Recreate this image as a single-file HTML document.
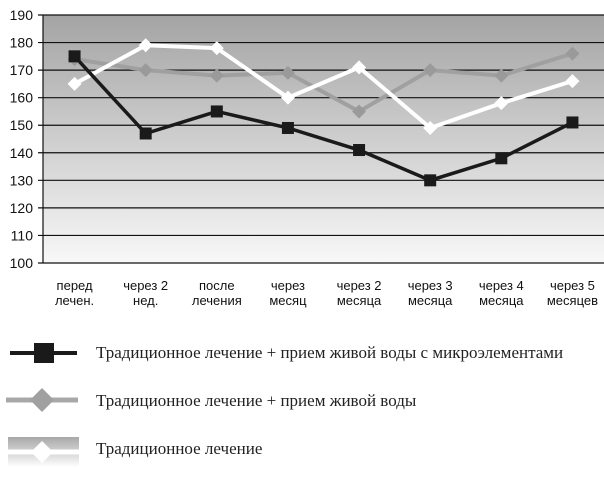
<!DOCTYPE html>
<html><head><meta charset="utf-8"><style>
body{margin:0;background:#fff}
svg text{font-family:"Liberation Sans",sans-serif}
.leg{font-family:"Liberation Serif",serif;font-size:17px;fill:#222}
</style></head><body>
<svg id="chart" width="604" height="475" viewBox="0 0 604 475" xmlns="http://www.w3.org/2000/svg">
<defs>
<linearGradient id="bg" x1="0" y1="0" x2="0" y2="1">
<stop offset="0" stop-color="#a4a4a4"/><stop offset="1" stop-color="#f8f8f8"/>
</linearGradient>
<linearGradient id="lg" x1="0" y1="0" x2="0" y2="1">
<stop offset="0" stop-color="#a8a8a8"/><stop offset="1" stop-color="#ffffff"/>
</linearGradient>
</defs>
<rect x="43" y="15" width="561" height="248" fill="url(#bg)"/>
<g id="grid"></g><g id="series"></g><g id="xlabels"></g>
<g>
<g>
<line x1="10" y1="353" x2="77" y2="353" stroke="#1a1a1a" stroke-width="4"/>
<rect x="34" y="343" width="20" height="20" fill="#1a1a1a"/>
<text class="leg" x="96" y="358">Традиционное лечение + прием живой воды с микроэлементами</text></g>
<g>
<line x1="6" y1="400" x2="78" y2="400" stroke="#a8a8a8" stroke-width="5"/>
<polygon points="42,388 54,400 42,412 30,400" fill="#a0a0a0"/>
<text class="leg" x="96" y="406">Традиционное лечение + прием живой воды</text></g>
<g>
<rect x="8" y="437" width="71" height="30" fill="url(#lg)"/>
<line x1="8" y1="452" x2="79" y2="452" stroke="#fff" stroke-width="5"/>
<polygon points="42,441 53,452 42,463 31,452" fill="#fff"/>
<text class="leg" x="96" y="454">Традиционное лечение</text></g>
</g>
</svg>
<script>
const categories=[["перед","лечен."],["через 2","нед."],["после","лечения"],["через","месяц"],["через 2","месяца"],["через 3","месяца"],["через 4","месяца"],["через 5","месяцев"]];
const seriesBlack=[175,147,155,149,141,130,138,151];
const seriesGray=[174,170,168,169,155,170,168,176];
const seriesWhite=[165,179,178,160,171,149,158,166];
const yTicks=[100,110,120,130,140,150,160,170,180,190];
const NS="http://www.w3.org/2000/svg";
const L=43,R=604,T=15,B=263,N=categories.length;
const x=i=>L+(R-L+8)/N*(i+0.5)-4;
const y=v=>B-(v-100)/90*(B-T);
function mk(tag,attrs,parent){const e=document.createElementNS(NS,tag);for(const k in attrs)e.setAttribute(k,attrs[k]);parent.appendChild(e);return e;}
const grid=document.getElementById('grid');
yTicks.forEach(t=>{
 const ln=mk('line',{x1:L-5,x2:R,y1:y(t),y2:y(t),stroke:'#111','stroke-width':1.2},grid);
 
 
 const tx=mk('text',{x:L-10,y:y(t)+5,'text-anchor':'end','font-size':14,fill:'#111'},grid);
 tx.textContent=t;
 
 
});
const ax=mk('line',{x1:L,x2:L,y1:T,y2:B,stroke:'#111','stroke-width':1.2},grid);


const xl=document.getElementById('xlabels');
categories.forEach((c,i)=>{
 c.forEach((s,j)=>{const t=mk('text',{x:x(i),y:290+j*15,'text-anchor':'middle','font-size':13,fill:'#111'},xl);t.textContent=s;
 
 });
});
const sg=document.getElementById('series');
function line(vals,color,w,name){
 const p=mk('polyline',{points:vals.map((v,i)=>x(i)+','+y(v)).join(' '),fill:'none',stroke:color,'stroke-width':w,'stroke-linejoin':'miter'},sg);
 
 
}
line(seriesGray,'#a0a0a0',4,'gray-series');
line(seriesWhite,'#ffffff',4,'white-series');
line(seriesBlack,'#1a1a1a',3.5,'black-series');
seriesGray.forEach((v,i)=>{const d=mk('polygon',{points:`${x(i)},${y(v)-7} ${x(i)+7},${y(v)} ${x(i)},${y(v)+7} ${x(i)-7},${y(v)}`,fill:'#9a9a9a'},sg);
 
 });
seriesWhite.forEach((v,i)=>{const d=mk('polygon',{points:`${x(i)},${y(v)-7} ${x(i)+7},${y(v)} ${x(i)},${y(v)+7} ${x(i)-7},${y(v)}`,fill:'#fff'},sg);
 
 });
seriesBlack.forEach((v,i)=>{const r=mk('rect',{x:x(i)-6,y:y(v)-6,width:12,height:12,fill:'#1a1a1a'},sg);
 
 });
</script>
</body></html>
